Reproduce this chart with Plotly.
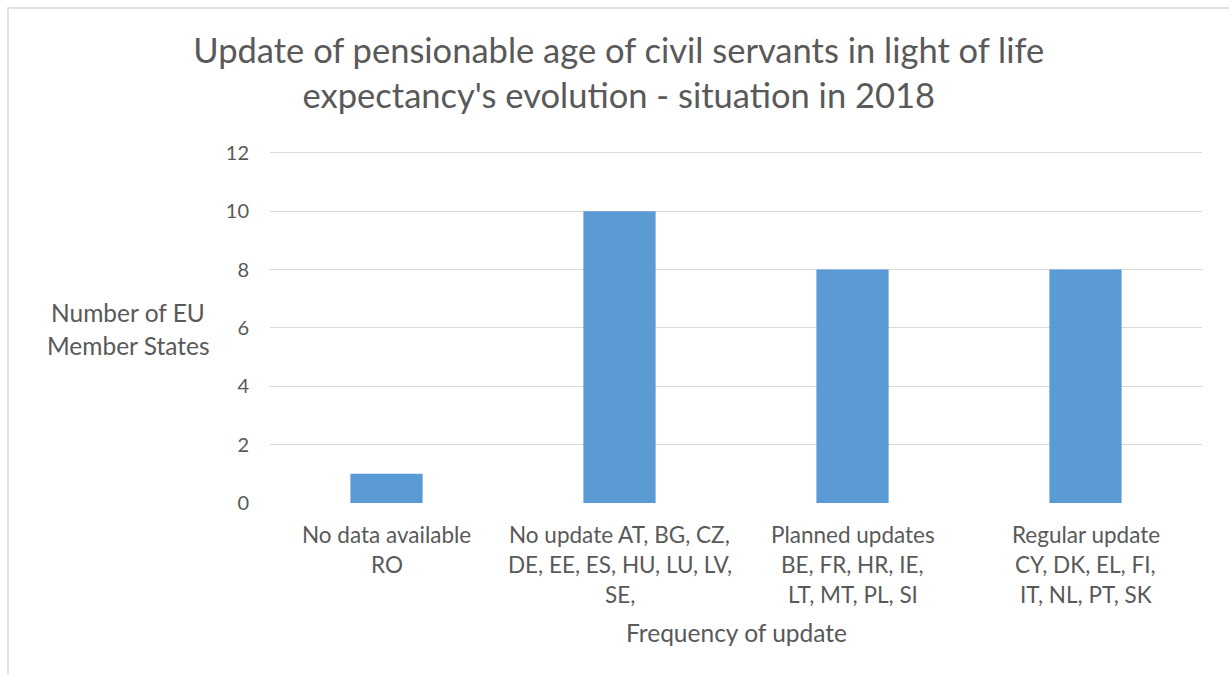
import plotly.graph_objects as go

categories = ["No data available", "No update", "Planned updates", "Regular update"]
values = [1, 10, 8, 8]
label_lines = [
    ["No data available", "RO"],
    ["No update AT, BG, CZ,", "DE, EE, ES, HU, LU, LV,", "SE,"],
    ["Planned updates", "BE, FR, HR, IE,", "LT, MT, PL, SI"],
    ["Regular update", "CY, DK, EL, FI,", "IT, NL, PT, SK"],
]
y_ticks = [0, 2, 4, 6, 8, 10, 12]
title_text = "Update of pensionable age of civil servants in light of life<br>expectancy's evolution - situation in 2018"
y_title_lines = ["Number of EU", "Member States"]
x_title = "Frequency of update"

FONT = "Lato"
TXT = "#595959"

fig = go.Figure(go.Bar(x=categories, y=values, marker=dict(color="#5B9BD5", line=dict(width=0)),
                       width=0.31))

plot_left, plot_right, plot_top, plot_bottom = 270, 1202, 153, 503
pw = plot_right - plot_left
ph = plot_bottom - plot_top
ymax = 12.1
plot_top_adj = plot_bottom - ph * ymax / 12
ph2 = plot_bottom - plot_top_adj

annotations = []
for cat, lines in zip(categories, label_lines):
    for i, line in enumerate(lines):
        annotations.append(dict(x=cat, xref="x", y=0, yref="paper", yanchor="middle",
                                yshift=-31 - 30 * i, text=line, showarrow=False,
                                font=dict(family=FONT, size=22.5, color=TXT)))
annotations.append(dict(x=0.5, xref="paper", y=0, yref="paper", yanchor="middle", yshift=-129,
                        text=x_title, showarrow=False, font=dict(family=FONT, size=24.5, color=TXT)))
for line, ycen in zip(y_title_lines, [313, 346]):
    annotations.append(dict(x=(128 - plot_left) / pw, xref="paper", xanchor="center",
                            y=(plot_bottom - ycen) / ph2, yref="paper",
                            yanchor="middle", text=line, showarrow=False,
                            font=dict(family=FONT, size=24.5, color=TXT)))

fig.update_layout(
    width=1229, height=675,
    margin=dict(l=plot_left, r=1229 - plot_right, t=plot_top_adj, b=675 - plot_bottom, pad=0),
    paper_bgcolor="white", plot_bgcolor="white",
    showlegend=False,
    title=dict(text=title_text, x=0.5035, xanchor="center", y=1 - 63 / 675, yanchor="middle",
               font=dict(family=FONT, size=34.5, color=TXT)),
    xaxis=dict(showticklabels=False, showgrid=False, zeroline=False, showline=False, ticks=""),
    yaxis=dict(range=[0, ymax], tickvals=y_ticks, showgrid=True, gridcolor="#D9D9D9", gridwidth=1,
               zeroline=False, showline=False, ticks="", ticklabelstandoff=20,
               tickfont=dict(family=FONT, size=20, color=TXT)),
    annotations=annotations,
    shapes=[dict(type="rect", xref="paper", yref="paper",
                 x0=(8 - plot_left) / pw, x1=(1240 - plot_left) / pw,
                 y0=(plot_bottom - 690) / ph2, y1=(plot_bottom - 8) / ph2,
                 line=dict(color="#D9D9D9", width=1.5), fillcolor="rgba(0,0,0,0)", layer="below")],
)

fig.write_html("out.html", config={"displayModeBar": False},
               post_script="document.body.style.margin='0';document.body.style.overflow='hidden';")
